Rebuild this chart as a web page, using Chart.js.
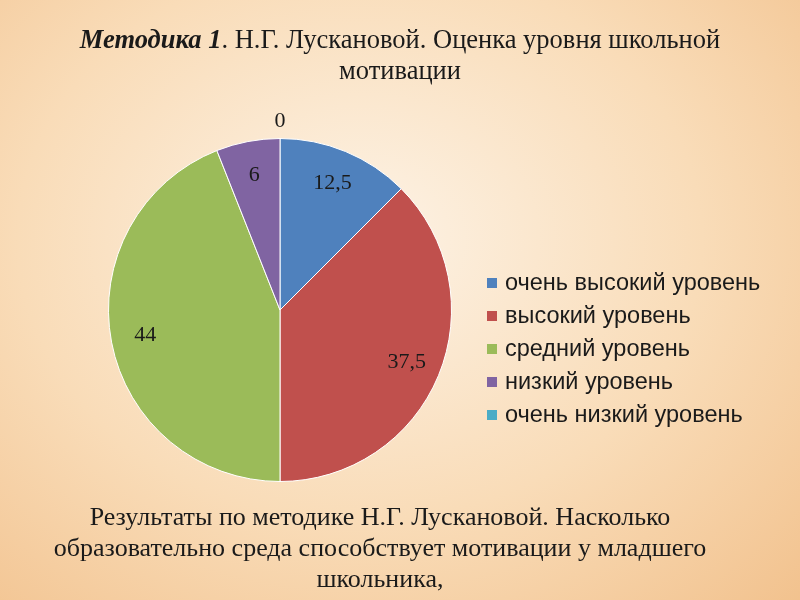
<!DOCTYPE html>
<html><head><meta charset="utf-8">
<script src="https://cdn.jsdelivr.net/npm/chart.js@4/dist/chart.umd.min.js"></script>
<style>
body{margin:0;width:800px;height:600px;overflow:hidden;background:radial-gradient(ellipse at 45% 40%,#fdf3e6 0%,#f9dcb8 55%,#f2c28e 100%);font-family:"Liberation Serif",serif;color:#1a1a1a}
#c{position:absolute;left:0;top:0}
.t{position:absolute;left:0;width:800px;text-align:center;font-size:26.5px;line-height:31px}
#title{top:24px}
#bottom{top:501px;left:-20px;font-size:26px;line-height:31px}
#leg{position:absolute;left:487px;top:266px;font-size:23.5px;line-height:33px;font-family:"Liberation Sans",Arial,sans-serif}
#leg div{display:flex;align-items:center}
#leg span{display:inline-block;width:10px;height:10px;margin-right:8px}
</style></head><body>
<canvas id="c" width="800" height="600"></canvas>
<div class="t" id="title"><b><i>Методика 1</i></b>. Н.Г. Лускановой. Оценка уровня школьной<br>мотивации</div>
<div id="leg"></div>
<div class="t" id="bottom">Результаты по методике Н.Г. Лускановой. Насколько<br>образовательно среда способствует мотивации у младшего<br>школьника,</div>
<script>
const categories=["очень высокий уровень","высокий уровень","средний уровень","низкий уровень","очень низкий уровень"];
const values=[12.5,37.5,44,6,0];
const labels=["12,5","37,5","44","6","0"];
const colors=["#4F81BD","#C0504D","#9BBB59","#8064A2","#4BACC6"];
document.getElementById('leg').innerHTML=categories.map((c,i)=>`<div><span style="background:${colors[i]}"></span>${c}</div>`).join('');
const lab={id:'lab',afterDatasetsDraw(ch){const ctx=ch.ctx;ctx.save();ctx.font='22px "Liberation Serif"';ctx.fillStyle='#1a1a1a';ctx.textAlign='center';ctx.textBaseline='middle';
ch.getDatasetMeta(0).data.forEach((a,i)=>{const m=(a.startAngle+a.endAngle)/2;const r=a.outerRadius*(values[i]===0?1.1:0.8);ctx.fillText(labels[i],a.x+r*Math.cos(m),a.y+r*Math.sin(m));});ctx.restore();}};
new Chart(document.getElementById('c'),{type:'pie',data:{labels:categories,datasets:[{data:values,backgroundColor:colors,borderColor:'#ffffff',borderWidth:1}]},
options:{responsive:false,animation:false,layout:{padding:{left:108,right:348,top:138,bottom:118}},plugins:{legend:{display:false},tooltip:{enabled:false}}},plugins:[lab]});
</script></body></html>
